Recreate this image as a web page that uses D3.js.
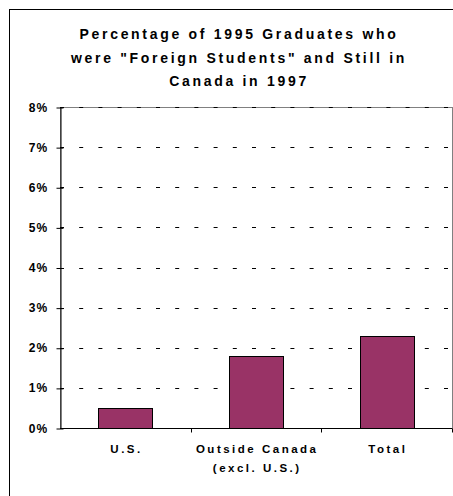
<!DOCTYPE html>
<html>
<head>
<meta charset="utf-8">
<script src="https://cdn.jsdelivr.net/npm/d3@7"></script>
<style>
  body { margin: 0; background: #fff; }
  svg { display: block; font-family: Arial, "Liberation Sans", sans-serif; }
</style>
</head>
<body>
<svg id="chart" width="453" height="496"></svg>
<script>
// chart data
const titleLines = ["Percentage of 1995 Graduates who", "were \"Foreign Students\" and Still in", "Canada in 1997"];
const categories = ["U.S.", "Outside Canada", "Total"];
const subLabels = ["", "(excl. U.S.)", ""];
const values = [0.005, 0.018, 0.023];
const yTicks = [0, 0.01, 0.02, 0.03, 0.04, 0.05, 0.06, 0.07, 0.08];

const svg = d3.select("#chart");
const font = "Arial, 'Liberation Sans', sans-serif";

// outer frame (runs off the right and bottom edges)
svg.append("rect")
  .attr("x", 9.5).attr("y", 9.5)
  .attr("width", 460).attr("height", 500)
  .attr("fill", "none").attr("stroke", "#000");

// title
svg.append("g").selectAll("text")
  .data(titleLines)
  .enter().append("text")
  .attr("x", 239)
  .attr("y", (d, i) => 39 + i * 23.5)
  .attr("text-anchor", "middle")
  .attr("font-size", 14)
  .attr("font-weight", "bold")
  .attr("letter-spacing", 2.7)
  .text(d => d);

const plotL = 60, plotR = 452, plotT = 107, plotB = 428;

// scales
const x = d3.scaleBand().domain(categories).range([plotL, plotR]).paddingInner(0.587).paddingOuter(0.2935);
const y = d3.scaleLinear().domain([0, 0.08]).range([plotB, plotT]);
const step = x.step();

// plot area border
svg.append("rect")
  .attr("x", plotL + 0.5).attr("y", plotT + 0.5)
  .attr("width", plotR - plotL).attr("height", plotB - plotT)
  .attr("fill", "none").attr("stroke", "#808080");

// dashed gridlines
svg.append("g").selectAll("line")
  .data(yTicks.filter(d => d > 0))
  .enter().append("line")
  .attr("x1", plotL).attr("x2", plotR)
  .attr("y1", d => Math.round(y(d)) + 0.5).attr("y2", d => Math.round(y(d)) + 0.5)
  .attr("stroke", "#000")
  .attr("stroke-dasharray", "4,15.2");

// bars
svg.append("g").selectAll("rect")
  .data(values)
  .enter().append("rect")
  .attr("x", (d, i) => Math.round(x(categories[i])) + 0.5)
  .attr("y", d => Math.round(y(d)) + 0.5)
  .attr("width", Math.round(x.bandwidth()))
  .attr("height", d => Math.round(plotB - y(d)))
  .attr("fill", "#993366")
  .attr("stroke", "#000");

// y axis
const yAxis = svg.append("g")
  .attr("transform", `translate(${plotL + 0.5},0.5)`)
  .call(d3.axisLeft(y).tickValues(yTicks).tickFormat(d3.format(".0%")).tickSizeInner(4).tickSizeOuter(0).tickPadding(9));
yAxis.select(".domain").attr("stroke", "#000");
yAxis.selectAll(".tick line").attr("x2", 3).attr("x1", -4);
yAxis.selectAll("text")
  .attr("x", -12)
  .attr("dy", "0.3em")
  .attr("font-size", 12).attr("font-weight", "bold")
  .attr("font-family", font)
  .attr("letter-spacing", 1.2)
  .attr("fill", "#000");

// x axis
const xAxis = svg.append("g")
  .attr("transform", `translate(0,${plotB + 0.5})`)
  .call(d3.axisBottom(x).tickSize(0));
xAxis.select(".domain").attr("d", `M${plotL},0H${plotR}`).attr("stroke", "#000");
xAxis.selectAll("text")
  .attr("y", 24).attr("dy", null)
  .attr("dx", 1.2)
  .attr("font-size", 11.5).attr("font-weight", "bold")
  .attr("font-family", font)
  .attr("letter-spacing", 2.5)
  .attr("fill", "#000");
xAxis.selectAll(".tick").each(function(d, i) {
  if (subLabels[i]) {
    d3.select(this).append("text")
      .attr("y", 43.5).attr("dx", 1.2)
      .attr("text-anchor", "middle")
      .attr("font-size", 11.5).attr("font-weight", "bold")
      .attr("font-family", font)
      .attr("letter-spacing", 2.5)
      .attr("fill", "#000")
      .text(subLabels[i]);
  }
});

// category separator ticks
xAxis.append("g").selectAll("line")
  .data(categories)
  .enter().append("line")
  .attr("x1", d => Math.round(x(d) + x.bandwidth() + (step - x.bandwidth()) / 2) + 0.5)
  .attr("x2", d => Math.round(x(d) + x.bandwidth() + (step - x.bandwidth()) / 2) + 0.5)
  .attr("y1", 0).attr("y2", 4)
  .attr("stroke", "#000");
</script>
</body>
</html>
